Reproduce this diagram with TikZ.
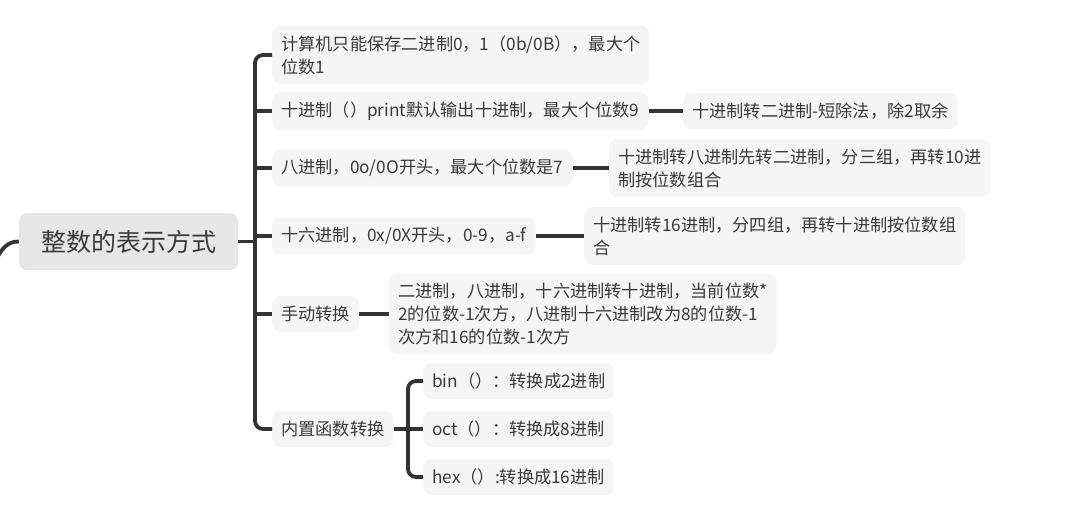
\documentclass[tikz,border=0pt]{standalone}
\usepackage{fontspec}
\setmainfont{Noto Sans CJK SC}
\usepackage{tikz}

\definecolor{linkc}{HTML}{333333}
\definecolor{textc}{HTML}{3A3A3A}
\definecolor{rootfill}{HTML}{E6E6E6}
\definecolor{boxfill}{HTML}{F5F5F5}

\tikzset{
  rootbox/.style={fill=rootfill, rounded corners=8pt, minimum width=219pt, minimum height=57pt,
    text=textc, font=\fontsize{25}{29}\selectfont},
  topic/.style={anchor=west, fill=boxfill, rounded corners=8pt, inner xsep=9pt, inner ysep=9.5pt,
    minimum height=36pt, align=left, text=textc, font=\fontsize{17.2}{23}\selectfont},
  link/.style={draw=linkc, line width=3.8pt},
}

\begin{document}
\begin{tikzpicture}[x=1pt,y=-1pt]
  \useasboundingbox (0,0) rectangle (1065,512);

  \node [rootbox] (root) at (128.5,241.5) {整数的表示方式};

  \node [topic] (c1) at (272,55) {计算机只能保存二进制0，1（0b/0B），最大个\\位数1};
  \node [topic] (c2) at (272,111) {十进制（）print默认输出十进制，最大个位数9};
  \node [topic] (c3) at (272,168) {八进制，0o/0O开头，最大个位数是7};
  \node [topic] (c4) at (272,236) {十六进制，0x/0X开头，0-9，a-f};
  \node [topic] (c5) at (272,314) {手动转换};
  \node [topic] (c6) at (272,429) {内置函数转换};

  \node [topic] (g2) at (683,111) {十进制转二进制-短除法，除2取余};
  \node [topic] (g3) at (609,168) {十进制转八进制先转二进制，分三组，再转10进\\制按位数组合};
  \node [topic] (g4) at (584,236) {十进制转16进制，分四组，再转十进制按位数组\\合};
  \node [topic] (g5) at (389,314) {二进制，八进制，十六进制转十进制，当前位数*\\2的位数-1次方，八进制十六进制改为8的位数-1\\次方和16的位数-1次方};

  \node [topic] (f1) at (423,381) {bin（）：转换成2进制};
  \node [topic] (f2) at (423,429) {oct（）：转换成8进制};
  \node [topic] (f3) at (423,477) {hex（）:转换成16进制};

  \coordinate (parent) at (-6,264);
  \coordinate (trunk) at (255,241.5);
  \coordinate (fork) at (408,429);

  \draw [link] (parent) .. controls (2,247) and (8,241.5) .. (root.west);
  \draw [link] (root.east) -- (trunk);
  \draw [link, rounded corners=8pt] (c1.west) -| (trunk) |- (c6.west);
  \draw [link] (c2.west) -- (c2.west -| trunk);
  \draw [link] (c3.west) -- (c3.west -| trunk);
  \draw [link] (c4.west) -- (c4.west -| trunk);
  \draw [link] (c5.west) -- (c5.west -| trunk);

  \draw [link] (c2.east) -- (g2.west);
  \draw [link] (c3.east) -- (g3.west);
  \draw [link] (c4.east) -- (g4.west);
  \draw [link] (c5.east) -- (g5.west);

  \draw [link] (c6.east) -- (f2.west);
  \draw [link, rounded corners=8pt] (f1.west) -| (fork) |- (f3.west);
\end{tikzpicture}
\end{document}
